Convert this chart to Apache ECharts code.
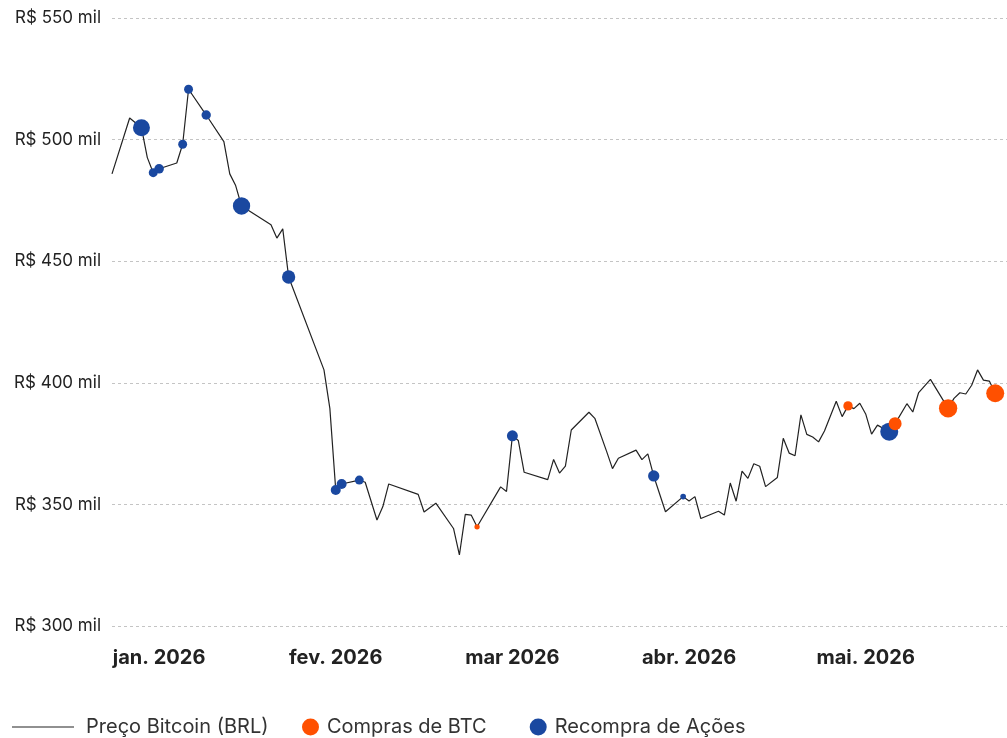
<!DOCTYPE html>
<html>
<head>
<meta charset="utf-8">
<script src="https://cdn.jsdelivr.net/npm/echarts@6/dist/echarts.min.js"></script>
<style>
html,body{margin:0;padding:0;background:#fff;}
#chart{width:1007px;height:738px;}
</style>
</head>
<body>
<div id="chart"></div>
<script>
// ---- data ----
const priceDates = [
'2025-12-24','2025-12-27','2025-12-29','2025-12-30','2025-12-31','2026-01-01','2026-01-04','2026-01-05','2026-01-06','2026-01-09',
'2026-01-12','2026-01-13','2026-01-14','2026-01-15','2026-01-20','2026-01-21','2026-01-22','2026-01-23','2026-01-29','2026-01-30',
'2026-01-31','2026-02-01','2026-02-04','2026-02-05','2026-02-07','2026-02-08','2026-02-09','2026-02-14','2026-02-15','2026-02-17',
'2026-02-20','2026-02-21','2026-02-22','2026-02-23','2026-02-24','2026-02-28','2026-03-01','2026-03-02','2026-03-03','2026-03-04',
'2026-03-08','2026-03-09','2026-03-10','2026-03-11','2026-03-12','2026-03-15','2026-03-16','2026-03-18','2026-03-19','2026-03-20',
'2026-03-23','2026-03-24','2026-03-25','2026-03-26','2026-03-28','2026-03-31','2026-04-01','2026-04-02','2026-04-03','2026-04-06',
'2026-04-07','2026-04-08','2026-04-09','2026-04-10','2026-04-11','2026-04-12','2026-04-13','2026-04-14','2026-04-16','2026-04-17',
'2026-04-18','2026-04-19','2026-04-20','2026-04-21','2026-04-22','2026-04-23','2026-04-24','2026-04-26','2026-04-27','2026-04-28',
'2026-04-29','2026-04-30','2026-05-01','2026-05-02','2026-05-03','2026-05-05','2026-05-06','2026-05-08','2026-05-09','2026-05-10',
'2026-05-12','2026-05-15','2026-05-16','2026-05-17','2026-05-18','2026-05-19','2026-05-20','2026-05-21','2026-05-22','2026-05-23'
];
// Preço Bitcoin em R$ mil
const priceValues = [
485.9,508.9,504.9,492.6,486.4,488.0,490.4,498.1,520.7,510.1,
499.2,485.9,481.1,472.7,465.0,459.5,463.3,443.5,405.3,389.5,
355.9,358.4,360.0,359.1,343.6,349.1,358.4,354.1,346.9,350.5,
340.1,329.2,345.9,345.6,340.8,357.2,355.3,378.2,376.3,363.2,
360.2,368.5,362.9,365.7,380.6,387.9,385.4,371.8,364.7,369.0,
372.3,368.4,370.8,361.7,347.0,353.2,351.4,353.2,344.2,347.2,
345.6,358.8,351.3,363.7,360.7,366.7,365.7,357.3,361.1,377.2,
371.1,370.0,386.8,378.8,377.7,375.7,380.2,392.4,386.1,390.5,
389.4,391.6,387.2,378.9,382.6,379.9,383.2,391.4,388.0,396.0,
401.4,389.5,393.6,395.9,395.4,399.0,405.3,401.1,400.7,395.7
];
// Compras de BTC (data, volume relativo)
const btcBuyDates = ['2026-02-24','2026-04-28','2026-05-06','2026-05-15','2026-05-23'];
const btcBuyVolume = [7,22,42,84,81];
// Recompra de Ações (data, volume relativo)
const buybackDates = ['2025-12-29','2025-12-31','2026-01-01','2026-01-05','2026-01-06','2026-01-09','2026-01-15','2026-01-23',
'2026-01-31','2026-02-01','2026-02-04','2026-03-02','2026-03-26','2026-03-31','2026-05-05'];
const buybackVolume = [72,20,23,20,20,22,75,44,25,25,20,30,32,8,81];
// eixo x
const axisStart = '2025-12-24';
const axisEnd = '2026-05-25';
const monthTickDates = ['2026-01-01','2026-01-31','2026-03-02','2026-04-01','2026-05-01'];
const monthTickLabels = ['jan. 2026','fev. 2026','mar 2026','abr. 2026','mai. 2026'];
// eixo y
const yMin = 300, yMax = 550, yStep = 50;

// ---- helpers ----
function ts(s){ const p = s.split('-').map(Number); return new Date(p[0], p[1]-1, p[2]).getTime(); }
function priceAt(d){ return priceValues[priceDates.indexOf(d)]; }
const tickTs = monthTickDates.map(ts);

const lineData = priceDates.map((d,i)=>[ts(d), priceValues[i]]);
const btcData = btcBuyDates.map((d,i)=>[ts(d), priceAt(d), btcBuyVolume[i]]);
const bbData = buybackDates.map((d,i)=>[ts(d), priceAt(d), buybackVolume[i]]);

const FONT = 'Inter';
const chart = echarts.init(document.getElementById('chart'), null, {renderer:'canvas'});
chart.setOption({
  animation:false,
  backgroundColor:'#fff',
  grid:{left:112, right:0, top:18, bottom:112, containLabel:false},
  xAxis:{
    type:'value', min:ts(axisStart), max:ts(axisEnd),
    axisLine:{show:false}, axisTick:{show:false}, splitLine:{show:false},
    axisLabel:{
      customValues: tickTs,
      margin:22, fontFamily:FONT, fontSize:20, fontWeight:'bold', color:'#222',
      formatter:function(v){
        let best=0, bd=Infinity;
        tickTs.forEach((t,i)=>{ const dd=Math.abs(t-v); if(dd<bd){bd=dd;best=i;} });
        return monthTickLabels[best];
      }
    }
  },
  yAxis:{
    type:'value', min:yMin, max:yMax, interval:yStep,
    axisLine:{show:false}, axisTick:{show:false},
    splitLine:{show:true, lineStyle:{color:'#c4c4c4', type:[3,3], width:1}},
    axisLabel:{margin:11, fontFamily:FONT, fontSize:17, color:'#222',
      formatter:function(v){ return 'R$ ' + v + ' mil'; }}
  },
  legend:[
    {
      data:[{name:'Preço Bitcoin (BRL)', icon:'rect'}], left:12, top:717, padding:0,
      itemWidth:62, itemHeight:1.2,
      itemStyle:{color:'#222'},
      textStyle:{fontFamily:FONT, fontSize:20, color:'#333', padding:[0,0,0,7]}
    },
    {
      data:[{name:'Compras de BTC', icon:'circle'},{name:'Recompra de Ações', icon:'circle'}],
      left:302, top:717, padding:0, itemWidth:17, itemHeight:17, itemGap:43,
      textStyle:{fontFamily:FONT, fontSize:20, color:'#333', padding:[0,0,0,3]}
    }
  ],
  series:[
    {
      name:'Preço Bitcoin (BRL)', type:'line', data:lineData, symbol:'none',
      lineStyle:{color:'#222', width:1.2}, itemStyle:{color:'#222'}, z:2
    },
    {
      name:'Recompra de Ações', type:'scatter', data:bbData, symbol:'circle',
      symbolSize:function(v){ return 2*Math.sqrt(v[2]); },
      itemStyle:{color:'#1A48A0', opacity:1}, z:3
    },
    {
      name:'Compras de BTC', type:'scatter', data:btcData, symbol:'circle',
      symbolSize:function(v){ return 2*Math.sqrt(v[2]); },
      itemStyle:{color:'#FF5000', opacity:1}, z:4
    }
  ]
});
</script>
</body>
</html>
